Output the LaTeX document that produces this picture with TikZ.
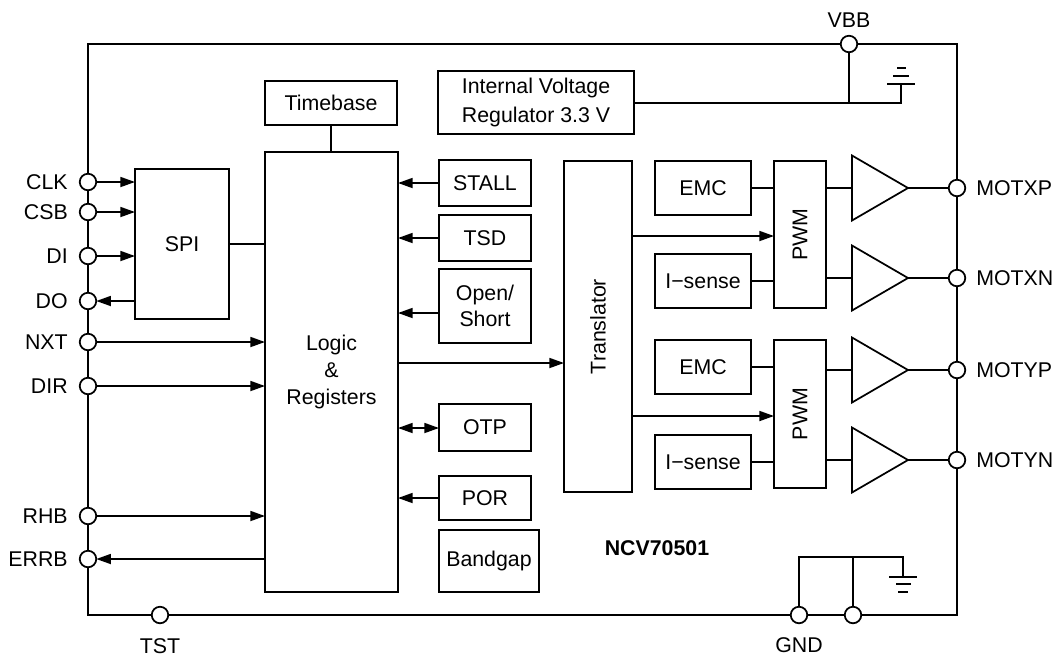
\documentclass[tikz,border=0pt]{standalone}
\usepackage{fontspec}
\setmainfont{Liberation Sans}
\usetikzlibrary{arrows.meta}
\tikzset{
  wire/.style={line width=1.3pt,line cap=butt},
  arr/.style={wire,-{Triangle[length=11pt,width=7.5pt]}},
  biarr/.style={wire,{Triangle[length=11pt,width=7.5pt]}-{Triangle[length=11pt,width=7.5pt]}},
  box/.style={draw,line width=1.3pt,inner sep=0pt,outer sep=0pt,align=center,font=\fontsize{16}{20}\selectfont},
  pin/.style={circle,draw,fill=white,line width=1.3pt,minimum size=12.4pt,inner sep=0pt,outer sep=0pt},
  lbl/.style={inner sep=0pt,font=\fontsize{16}{19}\selectfont},
  lleft/.style={lbl,anchor=east},
  lright/.style={lbl,anchor=west},
}
\newcommand\bx[6]{\node[box,minimum width={((#4)-(#2))*0.75pt},minimum height={((#5)-(#3))*0.75pt}] (#1) at ({((#2)+(#4))/2},{((#3)+(#5))/2}) {#6};}
\newcommand\pinl[3]{\node[pin] (#1) at (88,#2) {}; \node[lleft] (#1t) at (68,#2) {#3};}
\newcommand\pinr[3]{\node[pin] (#1) at (957,#2) {}; \node[lright] (#1t) at (976,#2) {#3};}
\newcommand\amp[2]{\coordinate (#1o) at (908,#2); \coordinate (#1i) at (852,#2);
  \draw[wire,line join=miter] (852,{#2-32.5}) -- (#1o) -- (852,{#2+32.5}) -- cycle;}
\begin{document}
\begin{tikzpicture}[x=0.75pt,y=-0.75pt]
\useasboundingbox (0,0) rectangle (1057,658);
% frame
\bx{frame}{88}{44}{957}{615}{}
% blocks
\bx{spi}{135}{169}{229}{319}{SPI}
\bx{logic}{265}{152}{398}{592}{Logic\\\&\\Registers}
\bx{timebase}{265}{81}{397}{125}{Timebase}
\bx{ivr}{438}{71}{634}{134}{Internal Voltage\\[1.5pt]Regulator 3.3 V}
\bx{stall}{439}{160}{531}{206}{STALL}
\bx{tsd}{439}{215}{531}{261}{TSD}
\bx{open}{439}{269}{531}{343}{Open/\\Short}
\bx{otp}{439}{404}{531}{451}{OTP}
\bx{por}{439}{476}{531}{520}{POR}
\bx{bandgap}{439}{530}{539}{592}{Bandgap}
\bx{trans}{564}{161}{632}{492}{\rotatebox{90}{Translator}}
\bx{emca}{655}{161}{751}{215}{EMC}
\bx{isa}{655}{254}{751}{308}{I\textminus sense}
\bx{pwma}{774}{161}{826}{308}{\rotatebox{90}{PWM}}
\bx{emcb}{655}{340}{751}{394}{EMC}
\bx{isb}{655}{435}{751}{489}{I\textminus sense}
\bx{pwmb}{774}{340}{826}{488}{\rotatebox{90}{PWM}}
\amp{ampa}{188}
\amp{ampb}{278}
\amp{ampc}{370}
\amp{ampd}{460}
% junctions
\coordinate (vj) at (849,103);
\coordinate (gp) at (901,103);
\coordinate (gb) at (901,84);
\coordinate (gndt) at (853,557);
\coordinate (gndl) at (799,557);
\coordinate (gndr) at (903,557);
\coordinate (gndg) at (903,577);
% pins
\pinl{clk}{182}{CLK}
\pinl{csb}{212}{CSB}
\pinl{di}{256}{DI}
\pinl{do}{301}{DO}
\pinl{nxt}{342}{NXT}
\pinl{dir}{386}{DIR}
\pinl{rhb}{516}{RHB}
\pinl{errb}{559}{ERRB}
\pinr{mxp}{188}{MOTXP}
\pinr{mxn}{278}{MOTXN}
\pinr{myp}{370}{MOTYP}
\pinr{myn}{460}{MOTYN}
\node[pin] (vbb) at (849,44) {};
\node[lbl] (vbbt) at (849,20) {VBB};
\node[pin] (tst) at (160,615) {};
\node[lbl] (tstt) at (160,646) {TST};
\node[pin] (gnda) at (799,615) {};
\node[pin] (gndb) at (853,615) {};
\node[lbl] (gndtx) at (799,645) {GND};
\node[lbl,font=\fontsize{16}{19}\selectfont\bfseries] (name) at (657,548) {NCV70501};
% SPI
\draw[arr] (clk) -- (spi.west |- clk);
\draw[arr] (csb) -- (spi.west |- csb);
\draw[arr] (di) -- (spi.west |- di);
\draw[arr] (spi.west |- do) -- (do);
\draw[wire] (spi.east |- 0,244) -- (logic.west |- 0,244);
% logic inputs
\draw[arr] (nxt) -- (logic.west |- nxt);
\draw[arr] (dir) -- (logic.west |- dir);
\draw[arr] (rhb) -- (logic.west |- rhb);
\draw[arr] (logic.west |- errb) -- (errb);
\draw[wire] (timebase.south -| 331,0) -- (logic.north -| 331,0);
\draw[arr] (stall) -- (logic.east |- stall);
\draw[arr] (tsd) -- (logic.east |- tsd);
\draw[arr] (open.west |- 0,313) -- (logic.east |- 0,313);
\draw[biarr] (otp.west |- 0,428) -- (logic.east |- 0,428);
\draw[arr] (por) -- (logic.east |- por);
\draw[arr] (logic.east |- 0,363) -- (trans.west |- 0,363);
% translator to PWM
\draw[arr] (trans.east |- 0,236) -- (pwma.west |- 0,236);
\draw[arr] (trans.east |- 0,416) -- (pwmb.west |- 0,416);
% EMC / sense
\draw[wire] (emca) -- (pwma.west |- emca);
\draw[wire] (isa) -- (pwma.west |- isa);
\draw[wire] (emcb) -- (pwmb.west |- emcb);
\draw[wire] (isb) -- (pwmb.west |- isb);
% outputs
\draw[wire] (pwma.east |- ampai) -- (ampai);
\draw[wire] (pwma.east |- ampbi) -- (ampbi);
\draw[wire] (pwmb.east |- ampci) -- (ampci);
\draw[wire] (pwmb.east |- ampdi) -- (ampdi);
\draw[wire] (ampao) -- (mxp);
\draw[wire] (ampbo) -- (mxn);
\draw[wire] (ampco) -- (myp);
\draw[wire] (ampdo) -- (myn);
% supply
\draw[wire] (vbb) -- (vj);
\draw[wire] (ivr.east |- vj) -- (gp) -- (gb);
\draw[wire] (887,84) -- (915,84);
\draw[wire] (893,76) -- (909,76);
\draw[wire] (897,68) -- (906,68);
% ground
\draw[wire] (gnda) -- (gndl) -- (gndr) -- (gndg);
\draw[wire] (gndb) -- (gndt);
\draw[wire] (889,577) -- (917,577);
\draw[wire] (896,584) -- (911,584);
\draw[wire] (898,592) -- (908,592);
\end{tikzpicture}
\end{document}
